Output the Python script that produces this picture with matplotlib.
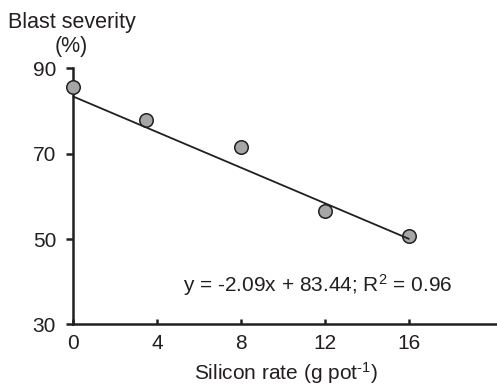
import numpy as np
import matplotlib
matplotlib.use("Agg")
import matplotlib.pyplot as plt

plt.rcParams["font.family"] = ["Liberation Sans", "DejaVu Sans"]
plt.rcParams["mathtext.fontset"] = "custom"
plt.rcParams["mathtext.rm"] = "Liberation Sans"
plt.rcParams["mathtext.it"] = "Liberation Sans"

# Silicon rate (g per pot) and blast severity (%)
silicon_rate = [0, 3.5, 8, 12, 16]
blast_severity = [85.6, 77.9, 71.6, 56.6, 50.7]

# Linear fit as reported
slope = -2.09
intercept = 83.44
r_squared = 0.96

x_ticks = [0, 4, 8, 12, 16]
y_ticks = [30, 50, 70, 90]

ink = "#231f20"
fs = 15

fig = plt.figure(figsize=(4.97, 3.88), dpi=100)
ax = fig.add_axes([0.1463, 0.1637, 0.8537, 0.6603])

ax.scatter(silicon_rate, blast_severity, s=9.7 ** 2, color="#a6a6a6",
           edgecolor=ink, linewidth=1.1, zorder=3, clip_on=False)

fit_x = np.array([0, 16])
ax.plot(fit_x, slope * fit_x + intercept, color=ink, linewidth=1.3,
        zorder=4, clip_on=False, solid_capstyle="butt")

ax.set_xlim(0, 20.16)
ax.set_ylim(30, 90)
ax.set_xticks(x_ticks)
ax.set_yticks(y_ticks)

for side in ("top", "right"):
    ax.spines[side].set_visible(False)
for side in ("left", "bottom"):
    ax.spines[side].set_linewidth(1.8)
    ax.spines[side].set_color(ink)

ax.tick_params(axis="y", direction="out", length=5, width=1.8, pad=7,
               labelsize=fs, colors=ink)
ax.tick_params(axis="x", direction="in", length=3.5, width=1.8, pad=7,
               labelsize=fs, colors=ink)

fig.text(71.7 / 497, (388 - 28.3) / 388, "Blast severity", ha="center",
         va="baseline", fontsize=15.5, color=ink)
fig.text(71.7 / 497, (388 - 51.7) / 388, "(%)", ha="center",
         va="baseline", fontsize=15.5, color=ink)

fig.text(285.8 / 497, (388 - 380) / 388, "Silicon rate (g pot$^{\\text{-}1}$)",
         ha="center", va="baseline", fontsize=fs, color=ink)

fig.text(182.7 / 497, (388 - 291.7) / 388,
         f"y = {slope:.2f}x + {intercept:.2f}; R$^{{2}}$ = {r_squared:.2f}",
         ha="left", va="baseline", fontsize=fs, color=ink)

fig.savefig("out.png", dpi=100)
